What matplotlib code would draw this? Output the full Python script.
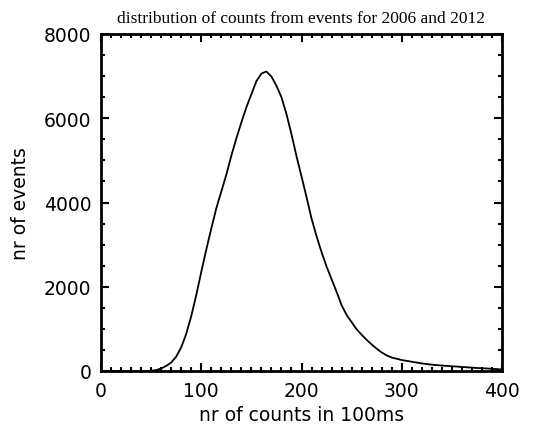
import matplotlib
matplotlib.use("Agg")
import matplotlib.pyplot as plt
from matplotlib.ticker import MultipleLocator

# nr of counts in 100ms (bin centres, read every 5 counts)
counts = list(range(0, 405, 5))
# nr of events
events = [0, 0, 0, 0, 0, 0, 0, 0, 0, 0,
          5, 20, 60, 120, 200, 340, 560, 880, 1300, 1800,
          2350, 2880, 3380, 3860, 4260, 4660, 5110, 5520, 5900, 6260,
          6570, 6880, 7060, 7110, 6990, 6770, 6500, 6100, 5620, 5100,
          4620, 4130, 3620, 3200, 2820, 2480, 2180, 1880, 1560, 1330,
          1160, 990, 860, 740, 630, 530, 440, 370, 320, 290,
          260, 240, 220, 200, 180, 165, 150, 140, 130, 120,
          112, 105, 95, 88, 80, 72, 65, 60, 52, 45,
          35]

x_ticks = [0, 100, 200, 300, 400]
y_ticks = [0, 2000, 4000, 6000, 8000]

title = "distribution of counts from events for 2006 and 2012"
xlabel = "nr of counts in 100ms"
ylabel = "nr of events"

fig = plt.figure(figsize=(5.33, 4.27), dpi=100)
ax = fig.add_axes([101/533, 55/427, 401/533, 337/427])

ax.plot(counts, events, color="black", lw=1.3)

ax.set_xlim(0, 400)
ax.set_ylim(0, 8000)
ax.set_xticks(x_ticks)
ax.set_yticks(y_ticks)
ax.xaxis.set_minor_locator(MultipleLocator(10))
ax.yaxis.set_minor_locator(MultipleLocator(500))
ax.tick_params(which="both", direction="in", top=True, right=True, width=1.5, color="black")
ax.tick_params(which="major", length=6, labelsize=13.5, pad=7)
ax.tick_params(which="minor", length=3)
for s in ax.spines.values():
    s.set_linewidth(2)

ax.set_xlabel(xlabel, fontsize=13.5, labelpad=4)
ax.set_ylabel(ylabel, fontsize=13.5, labelpad=10)
fig.text(0.565, 0.955, title, fontsize=12.5, family="Liberation Serif", ha="center", va="center")

fig.savefig("out.png", dpi=100)
